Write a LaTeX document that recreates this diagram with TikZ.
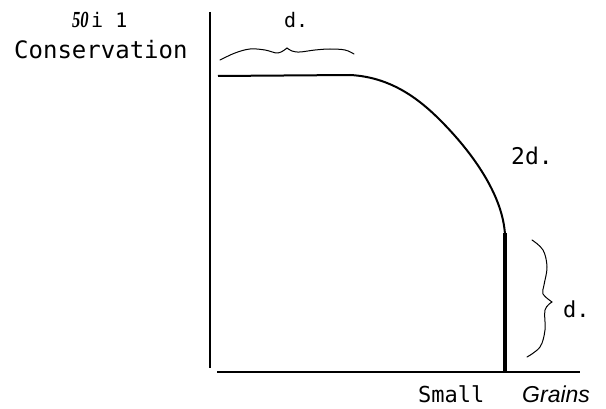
\documentclass[tikz,border=0pt]{standalone}
\usepackage{fontspec}
\setmonofont{DejaVu Sans Mono}
\newfontfamily\italsans{Liberation Sans}
\newfontfamily\serifbi{Liberation Serif}
\begin{document}
\begin{tikzpicture}[x=1pt,y=-1pt,
  lbl/.style={inner sep=0pt,anchor=base west,font=\ttfamily},
  axisline/.style={line width=2pt,line cap=butt},
  curveline/.style={line width=2pt,line join=round},
  bracel/.style={line width=1pt,line cap=round,line join=round}]
\path[use as bounding box] (0,0) rectangle (606,409);
% axes
\coordinate (ytop) at (210,12);
\coordinate (ybot) at (210,368);
\coordinate (xleft) at (217,372);
\coordinate (xright) at (580,372);
\draw[axisline] (ytop) -- (ybot);
\draw[axisline] (xleft) -- (xright);
% curve
\coordinate (cstart) at (218,76);
\coordinate (cknee) at (350,75);
\coordinate (cmid) at (440,120);
\coordinate (cend) at (505,235);
\coordinate (cfoot) at (505,372);
\draw[curveline] (cstart) -- (cknee)
  .. controls (390,77) and (418,98) .. (cmid)
  .. controls (472,152) and (503,195) .. (cend);
\draw[line width=4pt] (505,233) -- (cfoot);
% top brace
\draw[bracel] plot[smooth,tension=0.6] coordinates {(220,60) (235,53) (250,49) (265,50) (278,53) (287,48)};
\draw[bracel] plot[smooth,tension=0.6] coordinates {(287,48) (292,51) (300,52) (315,50) (330,49) (345,50) (354,54)};
% right brace
\draw[bracel] plot[smooth,tension=0.6] coordinates {(532,240) (543,250) (547,267) (544,285) (543,294) (552,302)};
\draw[bracel] plot[smooth,tension=0.6] coordinates {(552,302) (545,310) (545,330) (540,347) (527,357)};
% labels
\node[lbl,font=\serifbi\bfseries\itshape\fontsize{23}{23}\selectfont] (fifty) at (72,28) {\scalebox{0.72}[1]{50}};
\node[lbl,font=\ttfamily\fontsize{20}{20}\selectfont] (ione) at (91,28) {i 1};
\node[lbl,font=\ttfamily\fontsize{24}{24}\selectfont] (cons) at (14,59) {Conservation};
\node[lbl,font=\ttfamily\fontsize{20}{20}\selectfont] (dtop) at (284,28) {d.};
\node[lbl,font=\ttfamily\fontsize{23}{23}\selectfont] (twod) at (511,165) {2d.};
\node[lbl,font=\ttfamily\fontsize{22}{22}\selectfont] (dright) at (563,317) {d.};
\node[lbl,font=\ttfamily\fontsize{22}{22}\selectfont] (small) at (418,402) {Small};
\node[lbl,font=\italsans\itshape\fontsize{23}{23}\selectfont] (grains) at (522,402) {Grains};
\end{tikzpicture}
\end{document}
